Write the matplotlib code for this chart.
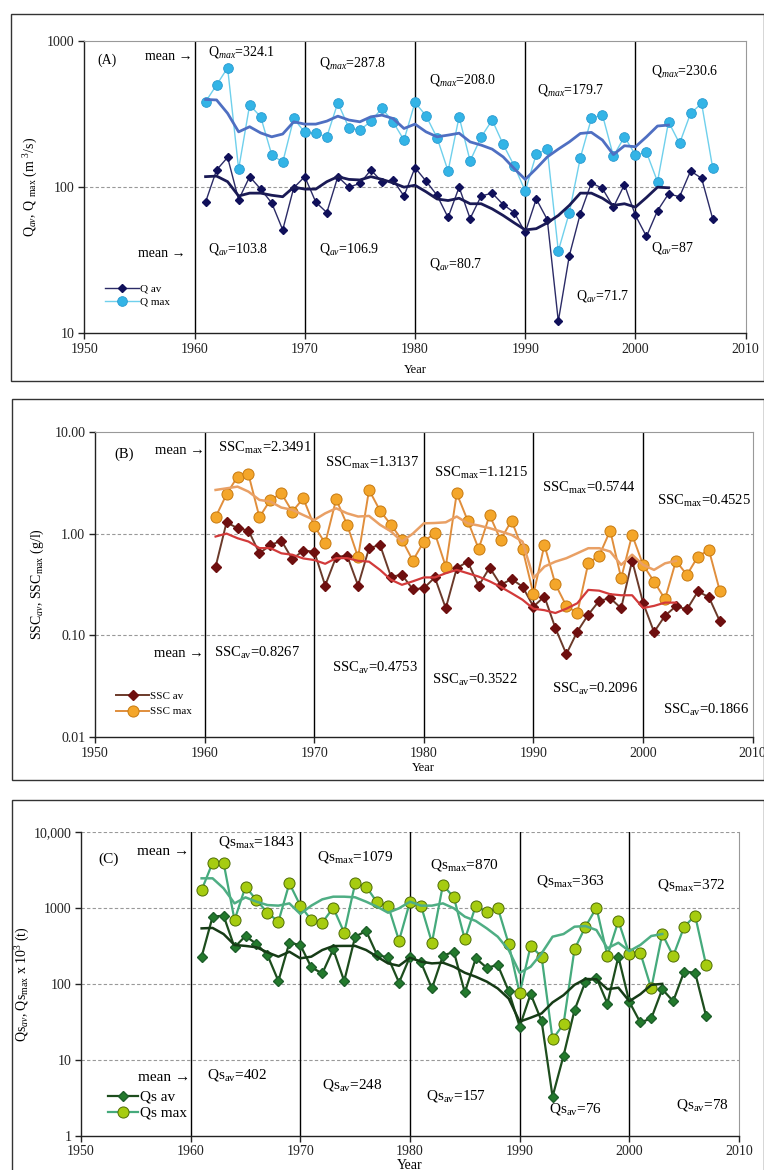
import matplotlib
matplotlib.use('Agg')
import matplotlib.pyplot as plt
from matplotlib.patches import Rectangle
from matplotlib.ticker import FixedLocator, FixedFormatter, NullLocator

plt.rcParams['font.family'] = ['Liberation Serif', 'DejaVu Serif']
plt.rcParams['mathtext.fontset'] = 'custom'
plt.rcParams['mathtext.rm'] = 'Liberation Serif'
plt.rcParams['mathtext.it'] = 'Liberation Serif:italic'
plt.rcParams['mathtext.bf'] = 'Liberation Serif:bold'

years = list(range(1961, 2008))
years_smooth = list(range(1961, 2004))

# (A) discharge, m3/s
q_av = [79, 131, 160, 82, 118, 97, 78, 51, 99, 118,
        79, 67, 118, 100, 106, 131, 109, 112, 87, 136,
        110, 88, 62, 100, 61, 87, 91, 76, 67, 49,
        83, 60, 12.1, 34, 66, 107, 98, 73, 104, 64,
        46, 69, 90, 86, 129, 115, 61]
q_max = [384, 500, 656, 133, 365, 303, 167, 148, 295, 237,
         233, 221, 378, 255, 245, 283, 346, 280, 210, 380,
         308, 218, 129, 303, 151, 220, 288, 196, 140, 94,
         168, 182, 36.6, 67, 159, 295, 313, 163, 221, 166,
         173, 109, 280, 199, 320, 374, 136]
q_av_sm = [118, 119, 109, 87, 91, 91, 88, 86, 100, 97,
           97, 109, 118, 113, 112, 118, 113, 107, 100, 103,
           93, 83, 81, 84, 77, 77, 71, 64, 57, 51,
           52, 57, 64, 75, 91, 91, 84, 75, 77, 73,
           85, 100, 99]
q_max_sm = [398, 395, 320, 239, 259, 235, 221, 231, 280, 270,
            270, 283, 306, 288, 280, 303, 311, 295, 252, 270,
            239, 221, 227, 234, 204, 194, 182, 161, 134, 113,
            134, 161, 182, 204, 233, 237, 210, 167, 192, 189,
            221, 262, 266]

# (B) suspended sediment concentration, g/l
ssc_av = [0.471, 1.29, 1.13, 1.07, 0.641, 0.769, 0.853, 0.56, 0.681, 0.666,
          0.309, 0.59, 0.608, 0.309, 0.718, 0.774, 0.378, 0.393, 0.284, 0.291,
          0.371, 0.185, 0.457, 0.531, 0.307, 0.464, 0.314, 0.357, 0.302, 0.192,
          0.241, 0.118, 0.0656, 0.109, 0.16, 0.219, 0.232, 0.185, 0.543, 0.209,
          0.108, 0.156, 0.194, 0.180, 0.27, 0.238, 0.138]
ssc_max = [1.45, 2.43, 3.62, 3.82, 1.45, 2.14, 2.48, 1.64, 2.22, 1.19,
           0.804, 2.17, 1.22, 0.586, 2.68, 1.68, 1.22, 0.867, 0.543, 0.835,
           1.01, 0.474, 2.48, 1.34, 0.708, 1.52, 0.867, 1.34, 0.708, 0.254,
           0.774, 0.318, 0.195, 0.166, 0.512, 0.608, 1.07, 0.365, 0.97, 0.493,
           0.338, 0.227, 0.54, 0.393, 0.595, 0.692, 0.274]
ssc_av_sm = [0.935, 1.0, 0.9, 0.835, 0.72, 0.72, 0.64, 0.62, 0.57, 0.55,
             0.505, 0.574, 0.574, 0.54, 0.53, 0.44, 0.352, 0.314, 0.34, 0.371,
             0.371, 0.408, 0.44, 0.408, 0.378, 0.34, 0.3, 0.26, 0.224, 0.183,
             0.177, 0.166, 0.183, 0.207, 0.28, 0.275, 0.254, 0.248, 0.248, 0.186,
             0.195, 0.21, 0.21]
ssc_max_sm = [2.68, 2.78, 2.89, 2.58, 2.14, 2.06, 1.8, 1.71, 1.52, 1.36,
              1.58, 1.77, 1.58, 1.47, 1.49, 1.22, 1.05, 0.835, 1.0, 1.26,
              1.27, 1.29, 1.47, 1.26, 1.2, 1.13, 1.05, 0.97, 0.835, 0.365,
              0.474, 0.53, 0.573, 0.641, 0.718, 0.718, 0.666, 0.493, 0.62, 0.493,
              0.44, 0.51, 0.54]

# (C) sediment load, 10^3 t
qs_av = [228, 767, 791, 303, 427, 335, 240, 109, 348, 325,
         165, 137, 285, 109, 418, 497, 240, 223, 104, 228,
         192, 87, 235, 265, 77, 217, 163, 177, 80.5, 27.3,
         73.5, 32.4, 3.27, 11.3, 45, 107, 121, 55, 228, 58,
         31, 35, 85, 59, 145, 140, 37.7]
qs_max = [1722, 3945, 3945, 693, 1905, 1271, 865, 659, 2110, 1072,
          693, 640, 1007, 472, 2110, 1905, 1186, 1072, 371, 1208,
          1072, 349, 2004, 1377, 385, 1072, 875, 1007, 335, 75,
          315, 228, 18.6, 29.6, 285, 566, 1007, 235, 673, 247,
          257, 87, 453, 233, 566, 791, 177]
qs_av_sm = [538, 545, 453, 325, 316, 303, 260, 228, 265, 217,
            228, 279, 315, 316, 316, 279, 228, 186, 173, 221,
            196, 186, 190, 168, 140, 124, 107, 87, 64, 31.8,
            35.8, 40.8, 57, 71, 97, 116, 115, 85, 89, 59,
            73, 97, 100]
qs_max_sm = [2455, 2455, 1813, 1148, 1377, 1208, 1091, 1072, 1148, 832,
             1072, 1297, 1406, 1406, 1380, 1208, 1038, 865, 989, 1208,
             1072, 1072, 1148, 989, 767, 673, 538, 418, 279, 140,
             168, 252, 418, 453, 566, 577, 511, 294, 348, 270,
             325, 427, 453]

W, H = 764, 1170
fig = plt.figure(figsize=(W / 100, H / 100), dpi=100)


def px_axes(l, t, r, b):
    return fig.add_axes([l / W, 1 - b / H, (r - l) / W, (b - t) / H])


# outer frames of the three panels
for (x0, y0, x1, y1) in [(10.5, 14, 763.5, 380.5), (11.5, 399, 763.5, 780), (11.5, 800, 763.5, 1190)]:
    fig.patches.append(Rectangle((x0 / W, 1 - y1 / H), (x1 - x0) / W, (y1 - y0) / H,
                                 transform=fig.transFigure, fill=False, lw=1.0,
                                 edgecolor='#333333', zorder=0))


def setup(ax, ylim, yticks, ylabels, grid):
    ax.set_yscale('log')
    ax.set_xlim(1950, 2010)
    ax.set_ylim(*ylim)
    ax.xaxis.set_major_locator(FixedLocator([1950, 1960, 1970, 1980, 1990, 2000, 2010]))
    ax.xaxis.set_minor_locator(NullLocator())
    ax.yaxis.set_major_locator(FixedLocator(yticks))
    ax.yaxis.set_major_formatter(FixedFormatter(ylabels))
    ax.yaxis.set_minor_locator(NullLocator())
    ax.tick_params(axis='both', direction='out', length=4, width=1, labelsize=10,
                   colors='#222222', pad=3)
    for s in ['top', 'right']:
        ax.spines[s].set_color('#999999')
        ax.spines[s].set_linewidth(0.8)
    for s in ['left', 'bottom']:
        ax.spines[s].set_color('#222222')
        ax.spines[s].set_linewidth(1.0)
    for g in grid:
        ax.axhline(g, color='#999999', lw=0.8, ls=(0, (3, 2)), zorder=1)
    for xv in [1960, 1970, 1980, 1990, 2000]:
        ax.axvline(xv, color='black', lw=1.0, zorder=2)


# ---------------- (A) ----------------
axA = px_axes(84.3, 41, 745.7, 333.3)
setup(axA, (10, 1000), [10, 100, 1000], ['10', '100', '1000'], [100])
axA.plot(years, q_av, color='#2b2b66', lw=1.0, marker='D', ms=4.5,
         mfc='#10105a', mec='#10105a', zorder=4, label='Q av')
axA.plot(years, q_max, color='#6fd0ec', lw=1.0, marker='o', ms=7,
         mfc='#33b4e6', mec='#2a9ad0', mew=0.6, zorder=4, label='Q max')
axA.plot(years_smooth, q_av_sm, color='#1a1a55', lw=2.0, zorder=5)
axA.plot(years_smooth, q_max_sm, color='#4f6fc2', lw=2.0, zorder=5)
axA.text(1951.2, 740, '(A)', fontsize=10, va='center')
axA.text(1959.8, 789, 'mean \u2192', fontsize=10, va='center', ha='right')
axA.text(1959.2, 35, 'mean \u2192', fontsize=10, va='center', ha='right')
for x, y, s in [(1961.2, 845, '324.1'), (1971.3, 703, '287.8'), (1981.3, 541, '208.0'),
                (1991.1, 461, '179.7'), (2001.4, 624, '230.6')]:
    axA.text(x, y, r'Q$_{\mathit{max}}$=' + s, fontsize=10, va='center')
for x, y, s in [(1961.2, 38, '103.8'), (1971.3, 38, '106.9'), (1981.3, 29.7, '80.7'),
                (1994.6, 17.9, '71.7'), (2001.4, 38.6, '87')]:
    axA.text(x, y, r'Q$_{\mathit{av}}$=' + s, fontsize=10, va='center')
axA.set_ylabel(r'Q$_{\mathit{av}}$, Q $_{\mathrm{max}}$ (m $^{3}$/s)', fontsize=10, labelpad=5)
axA.set_xlabel('Year', fontsize=9, labelpad=6)
axA.legend(loc='upper left', bbox_to_anchor=(0.025, 0.185), frameon=False, fontsize=8,
           handlelength=3.0, handletextpad=0.1, labelspacing=0.3, borderaxespad=0)

# ---------------- (B) ----------------
axB = px_axes(95, 431.7, 752.7, 737.3)
setup(axB, (0.01, 10), [0.01, 0.1, 1, 10], ['0.01', '0.10', '1.00', '10.00'], [0.1, 1])
axB.plot(years, ssc_av, color='#6b3a2a', lw=1.4, marker='D', ms=5,
         mfc='#6e0f0f', mec='#6e0f0f', zorder=4, label='SSC av')
axB.plot(years, ssc_max, color='#e08e3c', lw=1.4, marker='o', ms=8,
         mfc='#f4a62a', mec='#c77a12', mew=0.7, zorder=4, label='SSC max')
axB.plot(years_smooth, ssc_av_sm, color='#d23a3a', lw=1.6, zorder=5)
axB.plot(years_smooth, ssc_max_sm, color='#e9a065', lw=1.8, zorder=5)
axB.text(1951.8, 6.0, '(B)', fontsize=10.5, va='center')
axB.text(1960.0, 6.5, 'mean \u2192', fontsize=10.5, va='center', ha='right')
axB.text(1959.9, 0.067, 'mean \u2192', fontsize=10.5, va='center', ha='right')
for x, y, s in [(1961.25, 6.87, '2.3491'), (1971.0, 4.9, '1.3137'), (1980.9, 3.9, '1.1215'),
                (1990.8, 2.79, '0.5744'), (2001.25, 2.09, '0.4525')]:
    axB.text(x, y, r'SSC$_{\mathrm{max}}$=' + s, fontsize=10.5, va='center')
for x, y, s in [(1960.9, 0.067, '0.8267'), (1971.6, 0.048, '0.4753'), (1980.7, 0.0363, '0.3522'),
                (1991.7, 0.0299, '0.2096'), (2001.8, 0.0187, '0.1866')]:
    axB.text(x, y, r'SSC$_{\mathrm{av}}$=' + s, fontsize=10.5, va='center')
axB.set_ylabel(r'SSC$_{\mathit{av}}$, SSC$_{\mathrm{max}}$ (g/l)', fontsize=10, labelpad=6)
axB.set_xlabel('Year', fontsize=9, labelpad=1.5)
axB.legend(loc='upper left', bbox_to_anchor=(0.025, 0.165), frameon=False, fontsize=8,
           handlelength=3.0, handletextpad=0.1, labelspacing=0.5, borderaxespad=0)

# ---------------- (C) ----------------
axC = px_axes(81, 832, 739, 1135.7)
setup(axC, (1, 10000), [1, 10, 100, 1000, 10000], ['1', '10', '100', '1000', '10,000'],
      [10, 100, 1000, 10000])
axC.spines['top'].set_visible(False)
axC.plot(years, qs_av, color='#1d4d1d', lw=1.6, marker='D', ms=5.5,
         mfc='#237a2c', mec='#1d5e2a', zorder=4, label='Qs av')
axC.plot(years, qs_max, color='#45aa7c', lw=1.6, marker='o', ms=8,
         mfc='#a6cc10', mec='#4f6e05', mew=0.7, zorder=4, label='Qs max')
axC.plot(years_smooth, qs_av_sm, color='#163b16', lw=1.8, zorder=5)
axC.plot(years_smooth, qs_max_sm, color='#4fae84', lw=1.8, zorder=5)
axC.text(1951.6, 4400, '(C)', fontsize=11, va='center')
axC.text(1959.85, 5600, 'mean \u2192', fontsize=11, va='center', ha='right')
axC.text(1959.95, 5.86, 'mean \u2192', fontsize=11, va='center', ha='right')
for x, y, s in [(1962.5, 7450, '1843'), (1971.5, 4730, '1079'), (1981.8, 3670, '870'),
                (1991.5, 2260, '363'), (2002.5, 2000, '372')]:
    axC.text(x, y, r'Qs$_{\mathrm{max}}$=' + s, fontsize=11, va='center')
for x, y, s in [(1961.5, 6.3, '402'), (1972.0, 4.64, '248'), (1981.5, 3.33, '157'),
                (1992.7, 2.24, '76'), (2004.3, 2.53, '78')]:
    axC.text(x, y, r'Qs$_{\mathrm{av}}$=' + s, fontsize=11, va='center')
axC.set_ylabel(r'Qs$_{\mathit{av}}$, Qs$_{\mathrm{max}}$ x 10$^{3}$ (t)', fontsize=10, labelpad=1)
axC.set_xlabel('Year', fontsize=10, labelpad=0.5)
axC.legend(loc='upper left', bbox_to_anchor=(0.031, 0.17), frameon=False, fontsize=11,
           handlelength=2.0, handletextpad=0.1, labelspacing=0.15, borderaxespad=0)

fig.savefig('out.png', dpi=100)
